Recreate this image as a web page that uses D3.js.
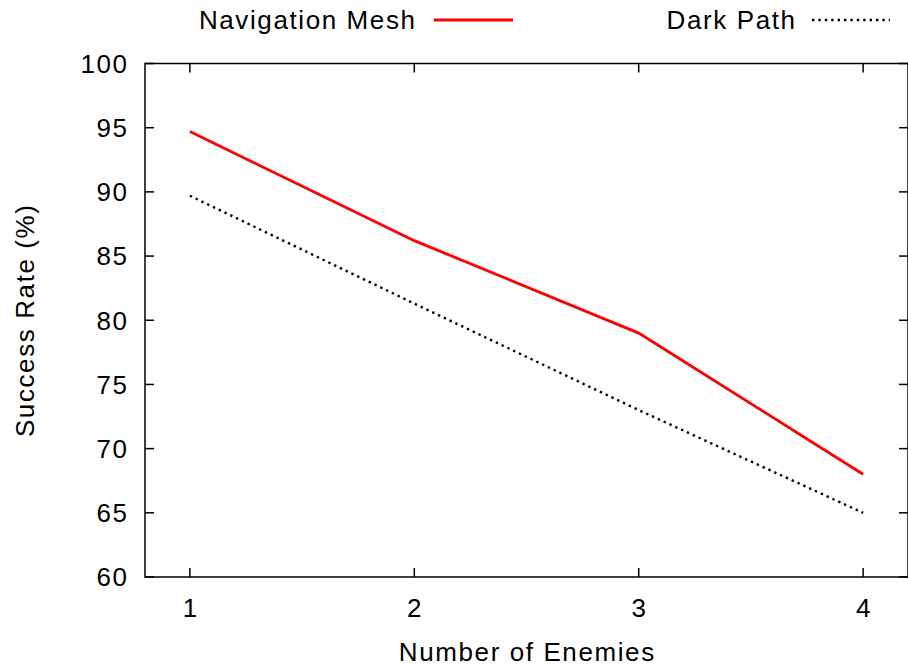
<!DOCTYPE html>
<html>
<head>
<meta charset="utf-8">
<script src="https://cdn.jsdelivr.net/npm/d3@7"></script>
<style>
  html, body { margin: 0; padding: 0; background: #fff; }
  svg text { font-family: "Liberation Sans", Arial, Helvetica, sans-serif; font-size: 26px; fill: #000; letter-spacing: 1.6px; }
</style>
</head>
<body>
<svg id="chart" width="908" height="666"></svg>
<script>
const categories = [1, 2, 3, 4];
const navMesh = [94.7, 86.2, 79.0, 68.0];
const darkPath = [89.7, 81.3, 73.0, 65.0];
const yTicks = [60, 65, 70, 75, 80, 85, 90, 95, 100];
const xTicks = [1, 2, 3, 4];
const seriesNames = ["Navigation Mesh", "Dark Path"];

const svg = d3.select("#chart");
const L = 145, R = 908, T = 63.5, B = 577;
const x = d3.scaleLinear().domain([0.8, 4.2]).range([L, R]);
const y = d3.scaleLinear().domain([60, 100]).range([B, T]);
const tickLen = 9;
const ls = 1.6;

// ticks (inward, mirrored)
const g = svg.append("g").attr("stroke", "#000").attr("stroke-width", 1.5);
yTicks.forEach(v => {
  g.append("line").attr("x1", L).attr("x2", L + tickLen).attr("y1", y(v)).attr("y2", y(v));
  g.append("line").attr("x1", R - tickLen).attr("x2", R).attr("y1", y(v)).attr("y2", y(v));
});
xTicks.forEach(v => {
  g.append("line").attr("x1", x(v)).attr("x2", x(v)).attr("y1", B).attr("y2", B - tickLen);
  g.append("line").attr("x1", x(v)).attr("x2", x(v)).attr("y1", T).attr("y2", T + tickLen);
});

// tick labels
yTicks.forEach(v => {
  svg.append("text").attr("x", 127 + ls).attr("y", y(v) + 9.3)
    .attr("text-anchor", "end").text(v);
});
xTicks.forEach(v => {
  svg.append("text").attr("x", x(v) + ls / 2).attr("y", B + 39.5)
    .attr("text-anchor", "middle").text(v);
});

// axis titles
svg.append("text").attr("x", (L + R) / 2 + ls / 2).attr("y", 661)
  .attr("text-anchor", "middle").text("Number of Enemies");
svg.append("text")
  .attr("transform", `translate(34,${(T + B) / 2}) rotate(-90)`)
  .attr("text-anchor", "middle").text("Success Rate (%)");

// lines
const line = d3.line().x((d, i) => x(categories[i])).y(d => y(d));
svg.append("path").datum(navMesh).attr("d", line)
  .attr("fill", "none").attr("stroke", "#ff0000").attr("stroke-width", 2.8)
  .attr("stroke-linejoin", "miter");
svg.append("path").datum(darkPath).attr("d", line)
  .attr("fill", "none").attr("stroke", "#000").attr("stroke-width", 2.4)
  .attr("stroke-dasharray", "2.4,4");

// frame
svg.append("rect").attr("x", L).attr("y", T).attr("width", R - L).attr("height", B - T)
  .attr("fill", "none").attr("stroke", "#000").attr("stroke-width", 1.5);

// legend
const ly = 20;
svg.append("text").attr("x", 415 + ls).attr("y", 28.5).attr("text-anchor", "end").text(seriesNames[0]);
svg.append("line").attr("x1", 434).attr("x2", 513).attr("y1", ly).attr("y2", ly)
  .attr("stroke", "#ff0000").attr("stroke-width", 2.8);
svg.append("text").attr("x", 795 + ls).attr("y", 28.5).attr("text-anchor", "end").text(seriesNames[1]);
svg.append("line").attr("x1", 812).attr("x2", 890).attr("y1", ly).attr("y2", ly)
  .attr("stroke", "#000").attr("stroke-width", 2.4).attr("stroke-dasharray", "2.4,4");
</script>
</body>
</html>
